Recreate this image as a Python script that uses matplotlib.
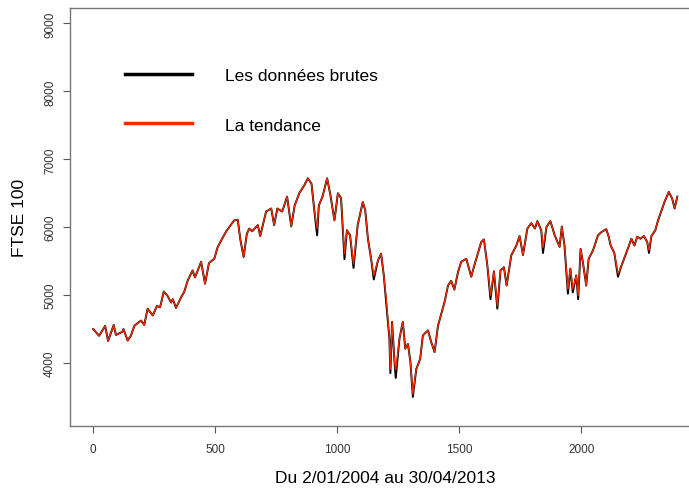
import matplotlib
matplotlib.use("Agg")
import matplotlib.pyplot as plt
import numpy as np

plt.rcParams['font.family'] = ['Liberation Sans', 'DejaVu Sans']

# trading day index and FTSE 100 level
jour = [1, 25, 50, 62, 85, 94, 120, 125, 142, 155, 170, 197, 210, 224, 245, 262, 275, 290,
        305, 320, 327, 340, 360, 374, 388, 408, 418, 443, 459, 475, 497, 511, 545, 578,
        593, 603, 617, 630, 640, 652, 675, 685, 709, 730, 742, 755, 775, 795, 812, 826,
        845, 866, 880, 895, 907, 918, 925, 940, 959, 972, 989, 1003, 1016, 1030, 1040,
        1053, 1067, 1084, 1105, 1115, 1126, 1139, 1150, 1167, 1180, 1191, 1201, 1214,
        1218, 1225, 1235, 1240, 1255, 1269, 1279, 1290, 1300, 1310, 1324, 1340, 1351,
        1372, 1385, 1399, 1413, 1426, 1440, 1454, 1467, 1480, 1495, 1508, 1529, 1549,
        1562, 1590, 1601, 1615, 1628, 1642, 1656, 1669, 1683, 1694, 1713, 1734, 1747,
        1761, 1779, 1795, 1810, 1820, 1836, 1843, 1857, 1873, 1891, 1911, 1920, 1931,
        1945, 1955, 1965, 1979, 1987, 1997, 2006, 2020, 2030, 2048, 2068, 2083, 2102,
        2112, 2120, 2135, 2150, 2160, 2175, 2188, 2205, 2217, 2229, 2242, 2256, 2270,
        2277, 2287, 2303, 2314, 2331, 2341, 2358, 2372, 2382, 2393]

tendance = [4500, 4400, 4546, 4325, 4560, 4413, 4458, 4500, 4330, 4400, 4550, 4625, 4560,
            4800, 4700, 4840, 4820, 5053, 4990, 4890, 4940, 4810, 4960, 5050, 5215, 5363,
            5260, 5490, 5167, 5470, 5536, 5710, 5935, 6100, 6110, 5830, 5560, 5900, 5980,
            5940, 6030, 5870, 6230, 6275, 6030, 6275, 6230, 6450, 6010, 6320, 6500, 6620,
            6720, 6640, 6230, 5980, 6320, 6450, 6720, 6480, 6100, 6500, 6430, 5610, 5955,
            5880, 5460, 6030, 6370, 6250, 5830, 5535, 5290, 5510, 5610, 5290, 4945, 4355,
            3910, 4605, 4015, 3900, 4355, 4605, 4210, 4280, 4015, 3540, 3910, 4060, 4405,
            4480, 4310, 4160, 4550, 4720, 4900, 5140, 5210, 5080, 5340, 5490, 5535, 5270,
            5440, 5780, 5820, 5440, 4995, 5350, 4845, 5365, 5410, 5140, 5585, 5730, 5870,
            5590, 5980, 6060, 5980, 6090, 5950, 5700, 6000, 6090, 5880, 5710, 6010, 5730,
            5090, 5390, 5090, 5290, 4995, 5680, 5490, 5140, 5535, 5660, 5880, 5930, 5970,
            5860, 5730, 5620, 5315, 5390, 5535, 5660, 5830, 5730, 5860, 5830, 5870, 5780,
            5660, 5870, 5955, 6100, 6275, 6375, 6520, 6420, 6275, 6450]

# raw series: same path, deeper spikes where the black line shows beyond the red one
brutes = list(tendance)
pics = {918: 5880, 1030: 5530, 1067: 5400, 1150: 5230, 1201: 4880, 1218: 3850,
        1240: 3780, 1310: 3500, 1628: 4940, 1656: 4800, 1843: 5620, 1945: 5020,
        1965: 5040, 1987: 4940, 2150: 5270, 2277: 5620}
for k, v in pics.items():
    brutes[jour.index(k)] = v

fig = plt.figure(figsize=(6.89, 4.89), dpi=100)
ax = fig.add_axes([70/689, 62/489, 631/689, 418/489])

ax.plot(jour, brutes, color='black', lw=1.4)
ax.plot(jour, tendance, color='#ff2a00', lw=0.9)

ax.set_xlim(-94, 2490)
ax.set_ylim(3072, 9228)
ax.set_xticks([0, 500, 1000, 1500, 2000])
ax.set_yticks([4000, 5000, 6000, 7000, 8000, 9000])
ax.tick_params(axis='both', colors='#555555', labelcolor='#333333', labelsize=8.5,
               length=5, width=0.8, direction='out')
ax.tick_params(axis='x', pad=7)
ax.tick_params(axis='y', pad=5)
for lab in ax.get_yticklabels():
    lab.set_rotation(90)
    lab.set_va('center')
for s in ax.spines.values():
    s.set_color('#777777')
    s.set_linewidth(1.0)
ax.spines['right'].set_visible(False)

ax.set_ylabel('FTSE 100', fontsize=12.5, labelpad=12)
ax.set_xlabel('Du 2/01/2004 au 30/04/2013', fontsize=12.5, labelpad=11)

# legend drawn like R's legend()
leg = ax.legend(['Les données brutes', 'La tendance'], loc='upper left',
                bbox_to_anchor=(0.062, 0.895), frameon=False, fontsize=12.5,
                handlelength=3.9, handletextpad=1.85, labelspacing=2.0)
for ln in leg.get_lines():
    ln.set_linewidth(2.5)

plt.savefig('out.png', dpi=100)
